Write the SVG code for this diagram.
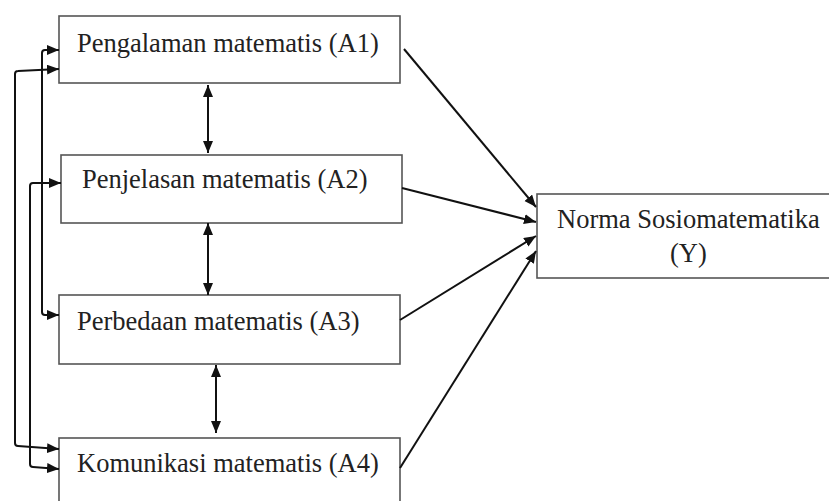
<svg xmlns="http://www.w3.org/2000/svg" width="829" height="501" viewBox="0 0 829 501">
<style>
.box{fill:#fff;stroke:#555;stroke-width:1.6}
.lbl{font-family:"Liberation Serif","Times New Roman",serif;font-size:26.5px;fill:#222}
.con{fill:none;stroke:#111;stroke-width:2}
</style>
<defs>
<marker id="ah" markerUnits="userSpaceOnUse" markerWidth="13" markerHeight="11" refX="12" refY="5" orient="auto-start-reverse">
<path d="M0,0 L12,5 L0,10 z" fill="#111"/>
</marker>
</defs>
<rect width="829" height="501" fill="#fff"/>
<g id="A1"><rect class="box" x="59" y="16" width="341" height="67"/><text class="lbl" x="77" y="52">Pengalaman matematis (A1)</text></g>
<g id="A2"><rect class="box" x="61" y="155" width="341" height="68"/><text class="lbl" x="82" y="188">Penjelasan matematis (A2)</text></g>
<g id="A3"><rect class="box" x="59" y="295" width="341" height="69"/><text class="lbl" x="77" y="330">Perbedaan matematis (A3)</text></g>
<g id="A4"><rect class="box" x="59" y="438" width="341" height="70"/><text class="lbl" x="77" y="472">Komunikasi matematis (A4)</text></g>
<g id="Y"><rect class="box" x="537" y="194" width="300" height="84"/><text class="lbl" x="557" y="228">Norma Sosiomatematika</text><text class="lbl" x="670" y="262">(Y)</text></g>
<g id="connectors">
<path class="con" d="M208,85 L208,153" marker-start="url(#ah)" marker-end="url(#ah)"/>
<path class="con" d="M208,223 L208,295" marker-start="url(#ah)" marker-end="url(#ah)"/>
<path class="con" d="M216,365 L216,433" marker-start="url(#ah)" marker-end="url(#ah)"/>
<path class="con" d="M59,69 L18,71 Q15,71 15,74 L15,443 Q15,446 18,446 L59,449" marker-start="url(#ah)" marker-end="url(#ah)"/>
<path class="con" d="M59,50 L45,50 Q42,50 42,53 L42,312 Q42,315 45,315 L59,315" marker-start="url(#ah)" marker-end="url(#ah)"/>
<path class="con" d="M61,183 L33,183 Q30,183 30,186 L30,464 Q30,467 33,467 L59,469" marker-start="url(#ah)" marker-end="url(#ah)"/>
<path class="con" d="M404,49 L536,207" marker-end="url(#ah)"/>
<path class="con" d="M402,188 L536,222" marker-end="url(#ah)"/>
<path class="con" d="M400,320 L536,236" marker-end="url(#ah)"/>
<path class="con" d="M400,468 L536,251" marker-end="url(#ah)"/>
</g>
</svg>
